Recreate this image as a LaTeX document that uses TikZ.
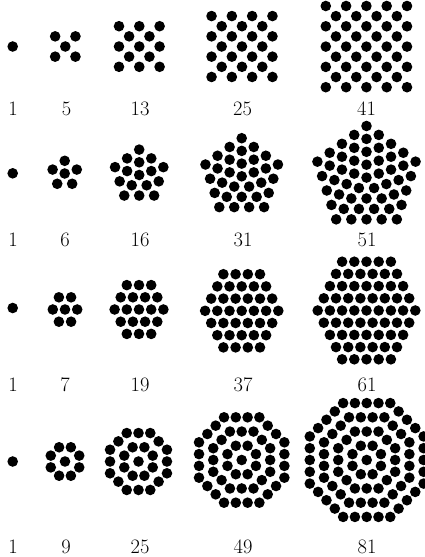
\documentclass[tikz,border=0pt]{standalone}
\usepackage{tikz}
\usetikzlibrary{calc}
\newcommand\dotrad{5.3}
\newcommand\gridstep{20.3}
\newcommand\pentstep{12.7}
\newcommand\hexstep{12.2}
\newcommand\octrad{15.4}
\tikzset{
  dotfill/.style={fill=black},
  countlabel/.style={
    font=\fontsize{20.5}{24}\selectfont,
    anchor=base, inner sep=0pt
  },
}
% centered square: (k+1)x(k+1) grid plus k x k inside
\newcommand\squarefig[3]{%
  \foreach \i in {0,...,#3}{\foreach \j in {0,...,#3}{
    \fill[dotfill] ({#1+(\i-#3/2)*\gridstep},{#2+(\j-#3/2)*\gridstep})
      circle[radius=\dotrad];}}
  \pgfmathtruncatemacro\inlast{#3-1}
  \foreach \i in {0,...,\inlast}{\foreach \j in {0,...,\inlast}{
    \fill[dotfill] ({#1+(\i+0.5-#3/2)*\gridstep},{#2+(\j+0.5-#3/2)*\gridstep})
      circle[radius=\dotrad];}}
}
% rings of dots on a regular polygon: x, y, rings, sides, start angle, step
\newcommand\ringfig[6]{%
  \fill[dotfill] (#1,#2) circle[radius=\dotrad];
  \foreach \k in {1,...,#3}{
    \pgfmathtruncatemacro\last{\k-1}
    \foreach \j in {1,...,#4}{
      \foreach \i in {0,...,\last}{
        \pgfmathsetmacro\t{\i/\k}
        \pgfmathsetmacro\a{#5+360/#4*(\j-1)}
        \pgfmathsetmacro\b{#5+360/#4*\j}
        \fill[dotfill]
          ({#1+\k*#6*((1-\t)*cos(\a)+\t*cos(\b))},
           {#2+\k*#6*((1-\t)*sin(\a)+\t*sin(\b))})
          circle[radius=\dotrad];}}}
}
% centered hexagon, rows of dots
\newcommand\hexfig[3]{%
  \foreach \j in {-#3,...,#3}{
    \pgfmathtruncatemacro\n{2*#3-abs(\j)}
    \foreach \i in {0,...,\n}{
      \fill[dotfill] ({#1+(\i-\n/2)*\hexstep},{#2-\j*\hexstep})
        circle[radius=\dotrad];}}
}

\begin{document}
\begin{tikzpicture}[x=1pt, y=1pt]
  \useasboundingbox (0,0) rectangle (425,-557);

  % squares
  \fill[dotfill] (12.7,-46.5) circle[radius=\dotrad];
  \squarefig{65.3}{-46.5}{1}
  \squarefig{139.3}{-46.5}{2}
  \squarefig{242}{-46.5}{3}
  \squarefig{366.4}{-46.6}{4}
  \node[countlabel] (sq1) at (13,-115) {1};
  \node[countlabel] (sq5) at (66.5,-115) {5};
  \node[countlabel] (sq13) at (140,-115) {13};
  \node[countlabel] (sq25) at (242.5,-115) {25};
  \node[countlabel] (sq41) at (366.5,-115) {41};

  % pentagons
  \fill[dotfill] (12.7,-173.3) circle[radius=\dotrad];
  \ringfig{64.7}{-173.5}{1}{5}{90}{\pentstep}
  \ringfig{139.2}{-175}{2}{5}{90}{\pentstep}
  \ringfig{241.7}{-176.3}{3}{5}{90}{\pentstep}
  \ringfig{366.5}{-177.6}{4}{5}{90}{12.9}
  \node[countlabel] (pe1) at (13,-246.7) {1};
  \node[countlabel] (pe6) at (65,-246.7) {6};
  \node[countlabel] (pe16) at (140,-246.7) {16};
  \node[countlabel] (pe31) at (243,-246.7) {31};
  \node[countlabel] (pe51) at (367,-246.7) {51};

  % hexagons
  \fill[dotfill] (12.7,-308) circle[radius=\dotrad];
  \hexfig{65}{-309.5}{1}
  \hexfig{139}{-309.5}{2}
  \hexfig{241.7}{-310.8}{3}
  \hexfig{366.5}{-310.5}{4}
  \node[countlabel] (hx1) at (13,-391.7) {1};
  \node[countlabel] (hx7) at (65,-391.7) {7};
  \node[countlabel] (hx19) at (140,-391.7) {19};
  \node[countlabel] (hx37) at (243,-391.7) {37};
  \node[countlabel] (hx61) at (367,-391.7) {61};

  % octagons
  \fill[dotfill] (12.7,-461.5) circle[radius=\dotrad];
  \ringfig{65}{-461.5}{1}{8}{22.5}{\octrad}
  \ringfig{138.5}{-461.5}{2}{8}{22.5}{\octrad}
  \ringfig{241.7}{-460}{3}{8}{22.5}{\octrad}
  \ringfig{366.7}{-460}{4}{8}{22.5}{\octrad}
  \node[countlabel] (oc1) at (13,-553.3) {1};
  \node[countlabel] (oc9) at (66,-553.3) {9};
  \node[countlabel] (oc25) at (140,-553.3) {25};
  \node[countlabel] (oc49) at (243,-553.3) {49};
  \node[countlabel] (oc81) at (367,-553.3) {81};
\end{tikzpicture}
\end{document}
